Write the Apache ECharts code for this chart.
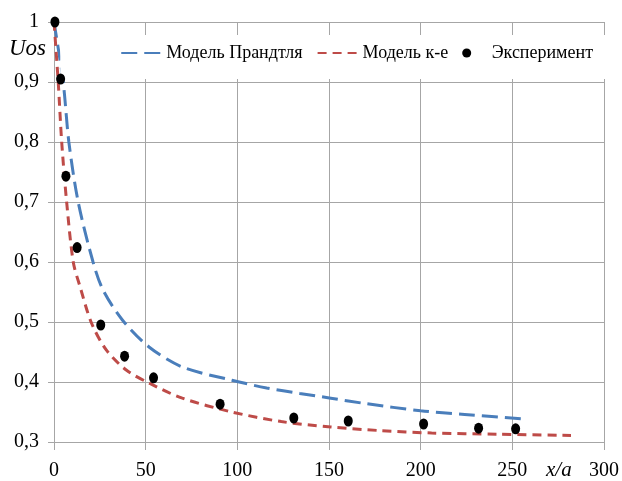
<!DOCTYPE html>
<html>
<head>
<meta charset="utf-8">
<script src="https://cdn.jsdelivr.net/npm/echarts@6/dist/echarts.min.js"></script>
<style>html,body{margin:0;padding:0;background:#fff}#c{width:622px;height:481px}</style>
</head>
<body>
<div id="c"></div>
<script>
var seriesNames = ['Модель Прандтля', 'Модель к-е', 'Эксперимент'];
var prandtl = [[0,1],[5,0.9],[8.1,0.8],[13.2,0.7],[21.3,0.6],[26.8,0.553],[37.4,0.503],[52,0.458],[70,0.425],[97,0.403],[116,0.39],[134,0.381],[151,0.373],[170,0.364],[200,0.352],[224,0.346],[258,0.338]];
var kEps = [[0,1],[2.3,0.9],[4.2,0.8],[6.9,0.7],[10.5,0.6],[14.1,0.56],[20.5,0.498],[28.6,0.453],[39.4,0.42],[52,0.398],[70,0.373],[97,0.35],[124,0.334],[151,0.325],[178,0.319],[206,0.315],[242,0.313],[282,0.311]];
var experiment = [[0.5,1.0],[3.6,0.905],[6.5,0.743],[12.6,0.624],[25.5,0.495],[38.5,0.443],[54.3,0.407],[90.6,0.363],[130.8,0.34],[160.5,0.335],[201.6,0.33],[231.6,0.323],[251.8,0.322]];
var xTicks = {min: 0, max: 300, interval: 50};
var yTicks = {min: 0.3, max: 1, interval: 0.1};
var xName = 'x/a';
var yName = 'Uos';

var FONT = 'Liberation Serif';
var chart = echarts.init(document.getElementById('c'), null, {renderer: 'canvas'});
chart.setOption({
  backgroundColor: '#fff',
  animation: false,
  grid: {left: 54, right: 15, top: 22, bottom: 39, containLabel: false},
  legend: {
    top: 35, right: 15,
    backgroundColor: '#fff',
    padding: [9, 14, 17, 60],
    itemGap: 14,
    itemWidth: 40, itemHeight: 9,
    textStyle: {fontFamily: FONT, fontSize: 18, color: '#000'},
    data: [
      {name: seriesNames[0], itemStyle: {opacity: 0}},
      {name: seriesNames[1], itemStyle: {opacity: 0}},
      {name: seriesNames[2], icon: 'circle', itemStyle: {color: '#000', opacity: 1}}
    ]
  },
  xAxis: {
    type: 'value', min: xTicks.min, max: xTicks.max, interval: xTicks.interval,
    axisLine: {show: true, lineStyle: {color: '#a6a6a6', width: 1}},
    axisTick: {show: true, length: 8, lineStyle: {color: '#a6a6a6'}},
    splitLine: {show: true, lineStyle: {color: '#a6a6a6', width: 1}},
    axisLabel: {fontFamily: FONT, fontSize: 20, color: '#000', margin: 19}
  },
  yAxis: {
    type: 'value', min: yTicks.min, max: yTicks.max, interval: yTicks.interval,
    axisLine: {show: true, lineStyle: {color: '#a6a6a6', width: 1}},
    axisTick: {show: true, length: 6, lineStyle: {color: '#a6a6a6'}},
    splitLine: {show: true, lineStyle: {color: '#a6a6a6', width: 1}},
    axisLabel: {
      fontFamily: FONT, fontSize: 20, color: '#000', margin: 15,
      formatter: function (v) { return (Math.round(v * 10) / 10).toString().replace('.', ','); }
    }
  },
  graphic: [
    {type: 'text', left: 9, top: 37, style: {
      text: yName, fontFamily: FONT, fontStyle: 'italic', fontSize: 23, fill: '#000'
    }},
    {type: 'text', left: 546, top: 460, style: {
      text: xName, fontFamily: FONT, fontStyle: 'italic', fontSize: 21, fill: '#000'
    }}
  ],
  series: [
    {name: seriesNames[0], type: 'line', data: prandtl, smooth: 0.3, symbol: 'none', z: 3,
     lineStyle: {color: '#4a7ebb', width: 3, type: [16, 7]}, itemStyle: {color: '#4a7ebb'}},
    {name: seriesNames[1], type: 'line', data: kEps, smooth: 0.3, symbol: 'none', z: 3,
     lineStyle: {color: '#be4b48', width: 3, type: [9, 6]}, itemStyle: {color: '#be4b48'}},
    {name: seriesNames[2], type: 'scatter', data: experiment, symbol: 'circle', symbolSize: [9, 11], z: 4,
     itemStyle: {color: '#000', opacity: 1}}
  ]
});
</script>
</body>
</html>
